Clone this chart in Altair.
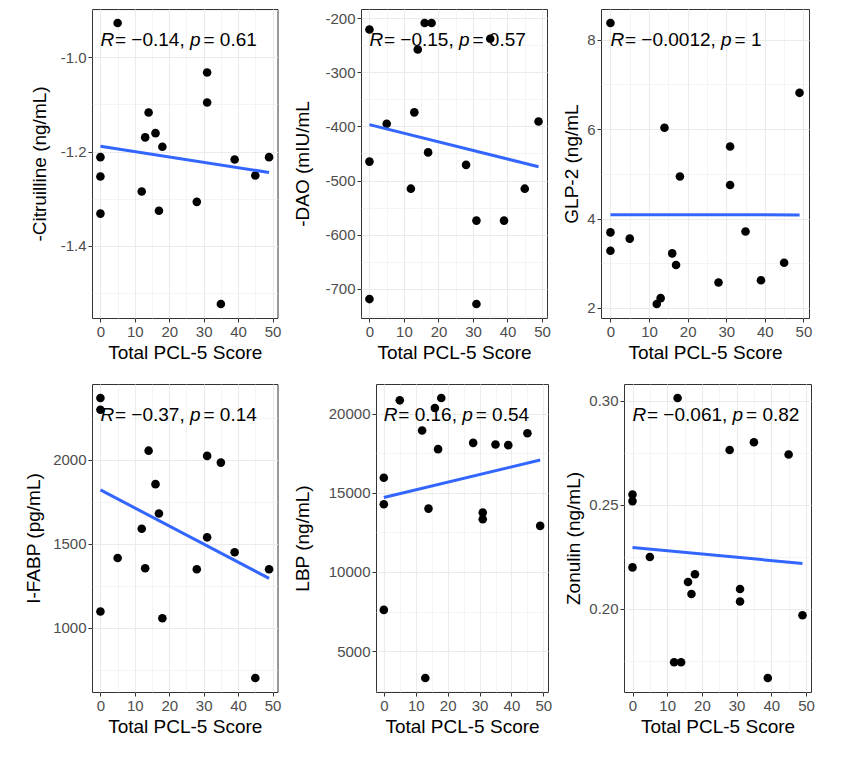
import altair as alt
import pandas as pd

# ---------------- data ----------------
pcl5 = [0, 0, 0, 5, 12, 13, 14, 16, 17, 18, 28, 31, 31, 35, 39, 45, 49]

citrulline = [-1.212, -1.253, -1.332, -0.927, -1.285, -1.170, -1.117, -1.161, -1.326,
              -1.190, -1.307, -1.032, -1.096, -1.524, -1.217, -1.251, -1.212]
dao = [-221, -465, -719, -395, -515, -374, -258, -209, -448,
       -209, -471, -574, -728, -238, -574, -515, -391]
glp2 = [8.37, 3.69, 3.28, 3.55, 2.09, 2.22, 6.03, 3.22, 2.96,
        4.94, 2.57, 5.61, 4.75, 3.71, 2.62, 3.01, 6.81]
ifabp = [2366, 2296, 1097, 1415, 1589, 1354, 2053, 1854, 1680,
         1057, 1348, 2022, 1538, 1982, 1449, 702, 1348]
lbp = [15951, 14272, 7601, 20839, 18930, 3300, 14000, 20357, 17755,
       20986, 18154, 13748, 13328, 18049, 18007, 18762, 12909]
zonulin = [0.2549, 0.2517, 0.2198, 0.2248, 0.1742, 0.3013, 0.1742, 0.2128, 0.2070,
           0.2165, 0.2763, 0.2094, 0.2034, 0.2800, 0.1666, 0.2741, 0.1968]

y_titles = ["-Citruilline (ng/mL)", "-DAO (mIU/mL", "GLP-2 (ng/mL",
            "I-FABP (pg/mL)", "LBP (ng/mL)", "Zonulin (ng/mL)"]
r_labels = ["\u22120.14", "\u22120.15", "\u22120.0012", "\u22120.37", "0.16", "\u22120.061"]
p_labels = ["0.61", "0.57", "1", "0.14", "0.54", "0.82"]

y_majors = [[-1.4, -1.2, -1.0], [-700, -600, -500, -400, -300, -200], [2, 4, 6, 8],
            [1000, 1500, 2000], [5000, 10000, 15000, 20000], [0.20, 0.25, 0.30]]
y_minors = [[-1.5, -1.3, -1.1, -0.9], [-750, -650, -550, -450, -350, -250], [3, 5, 7],
            [750, 1250, 1750, 2250], [2500, 7500, 12500, 17500], [0.175, 0.225, 0.275]]
y_formats = [".1f", "d", "d", "d", "d", ".2f"]
x_ticks = [0, 5, 10, 15, 20, 25, 30, 35, 40, 45, 50]

# ---------------- layout / style ----------------
widths = [185.5, 186, 208, 185.5, 172, 187]
heights = [309, 309, 309, 308, 308, 308]
y_extents = [38, 44, 15, 44, 59, 36]

FONT = "Liberation Sans"
ANN_SIZE = 19
CHAR_W = {"0": .556, "1": .556, "2": .556, "3": .556, "4": .556, "5": .556, "6": .556,
          "7": .556, "8": .556, "9": .556, ".": .278, ",": .278, " ": .278, "=": .584,
          "\u2212": .584, "R": .722, "p": .556}


def tw(s, size):
    return sum(CHAR_W.get(c, .556) for c in s) * size


def panel(yvals, ytitle, majors, minors, fmt, r_txt, p_txt, width, height, extent):
    df = pd.DataFrame({"x": pcl5, "y": yvals})
    xlo, xhi = min(pcl5), max(pcl5)
    xpad = 0.05 * (xhi - xlo)
    lo, hi = min(yvals), max(yvals)
    pad = 0.05 * (hi - lo)
    xs = alt.Scale(domain=[xlo - xpad, xhi + xpad], nice=False, zero=False)
    ys = alt.Scale(domain=[lo - pad, hi + pad], nice=False, zero=False)

    x_major_test = "datum.value % 10 === 0"
    maj_js = "[" + ",".join(repr(v) for v in majors) + "]"
    y_major_test = f"indexof({maj_js}, datum.value) >= 0"

    xaxis = alt.Axis(
        values=x_ticks, title="Total PCL-5 Score",
        labelExpr=f"{x_major_test} ? datum.label : ''",
        tickOpacity={"condition": {"test": x_major_test, "value": 1}, "value": 0},
        gridWidth={"condition": {"test": x_major_test, "value": 1.1}, "value": 0.55},
    )
    yaxis = alt.Axis(
        values=sorted(majors + minors), title=ytitle, format=fmt,
        labelExpr=f"{y_major_test} ? replace(datum.label, '\u2212', '-') : ''",
        tickOpacity={"condition": {"test": y_major_test, "value": 1}, "value": 0},
        gridWidth={"condition": {"test": y_major_test, "value": 1.1}, "value": 0.55},
        minExtent=extent, maxExtent=extent,
    )
    xenc = alt.X("x:Q", scale=xs, axis=xaxis)
    yenc = alt.Y("y:Q", scale=ys, axis=yaxis)

    pts = alt.Chart(df).mark_circle(size=74, color="black", opacity=1).encode(x=xenc, y=yenc)
    fit = alt.Chart(df).transform_regression("x", "y").mark_line(
        color="#3366FF", strokeWidth=3).encode(x=xenc, y=yenc)

    seg2 = f"= {r_txt},"
    s2_dx = 14.5
    p_dx = s2_dx + tw(seg2 + " ", ANN_SIZE)
    seg4 = f"= {p_txt}"
    parts = [("R", 0, "italic"), (seg2, s2_dx, "normal"),
             ("p", p_dx, "italic"), (seg4, p_dx + 13.5, "normal")]
    lab_df = pd.DataFrame({"x": [xlo]})
    layers = [pts, fit]
    for txt, dx, style in parts:
        layers.append(
            alt.Chart(lab_df).mark_text(
                text=txt, align="left", baseline="alphabetic", dx=dx,
                fontSize=ANN_SIZE, font=FONT, fontStyle=style, color="black"
            ).encode(x=xenc, y=alt.value(37))
        )
    return alt.layer(*layers).properties(width=width, height=height)


ys_all = [citrulline, dao, glp2, ifabp, lbp, zonulin]

panels = [panel(ys_all[i], y_titles[i], y_majors[i], y_minors[i], y_formats[i],
                r_labels[i], p_labels[i], widths[i], heights[i], y_extents[i])
          for i in range(6)]

row1 = alt.hconcat(*panels[:3], spacing=10)
row2 = alt.hconcat(*panels[3:], spacing=10)

chart = alt.vconcat(row1, row2, spacing=20).properties(
    padding={"left": 23, "top": 8, "right": 0, "bottom": 0},
    background="white",
).configure_view(
    stroke="#333333", strokeWidth=1
).configure_axis(
    domain=False, grid=True, gridColor="#EBEBEB",
    labelColor="#4D4D4D", labelFont=FONT, labelFontSize=15, labelPadding=2,
    titleFont=FONT, titleFontSize=19, titleFontWeight="normal", titleColor="black",
    tickColor="#333333", tickSize=4, tickWidth=1,
).configure_axisX(titlePadding=4).configure_axisY(titlePadding=5)

chart.save("out.html", embed_options={"renderer": "svg", "actions": False})
